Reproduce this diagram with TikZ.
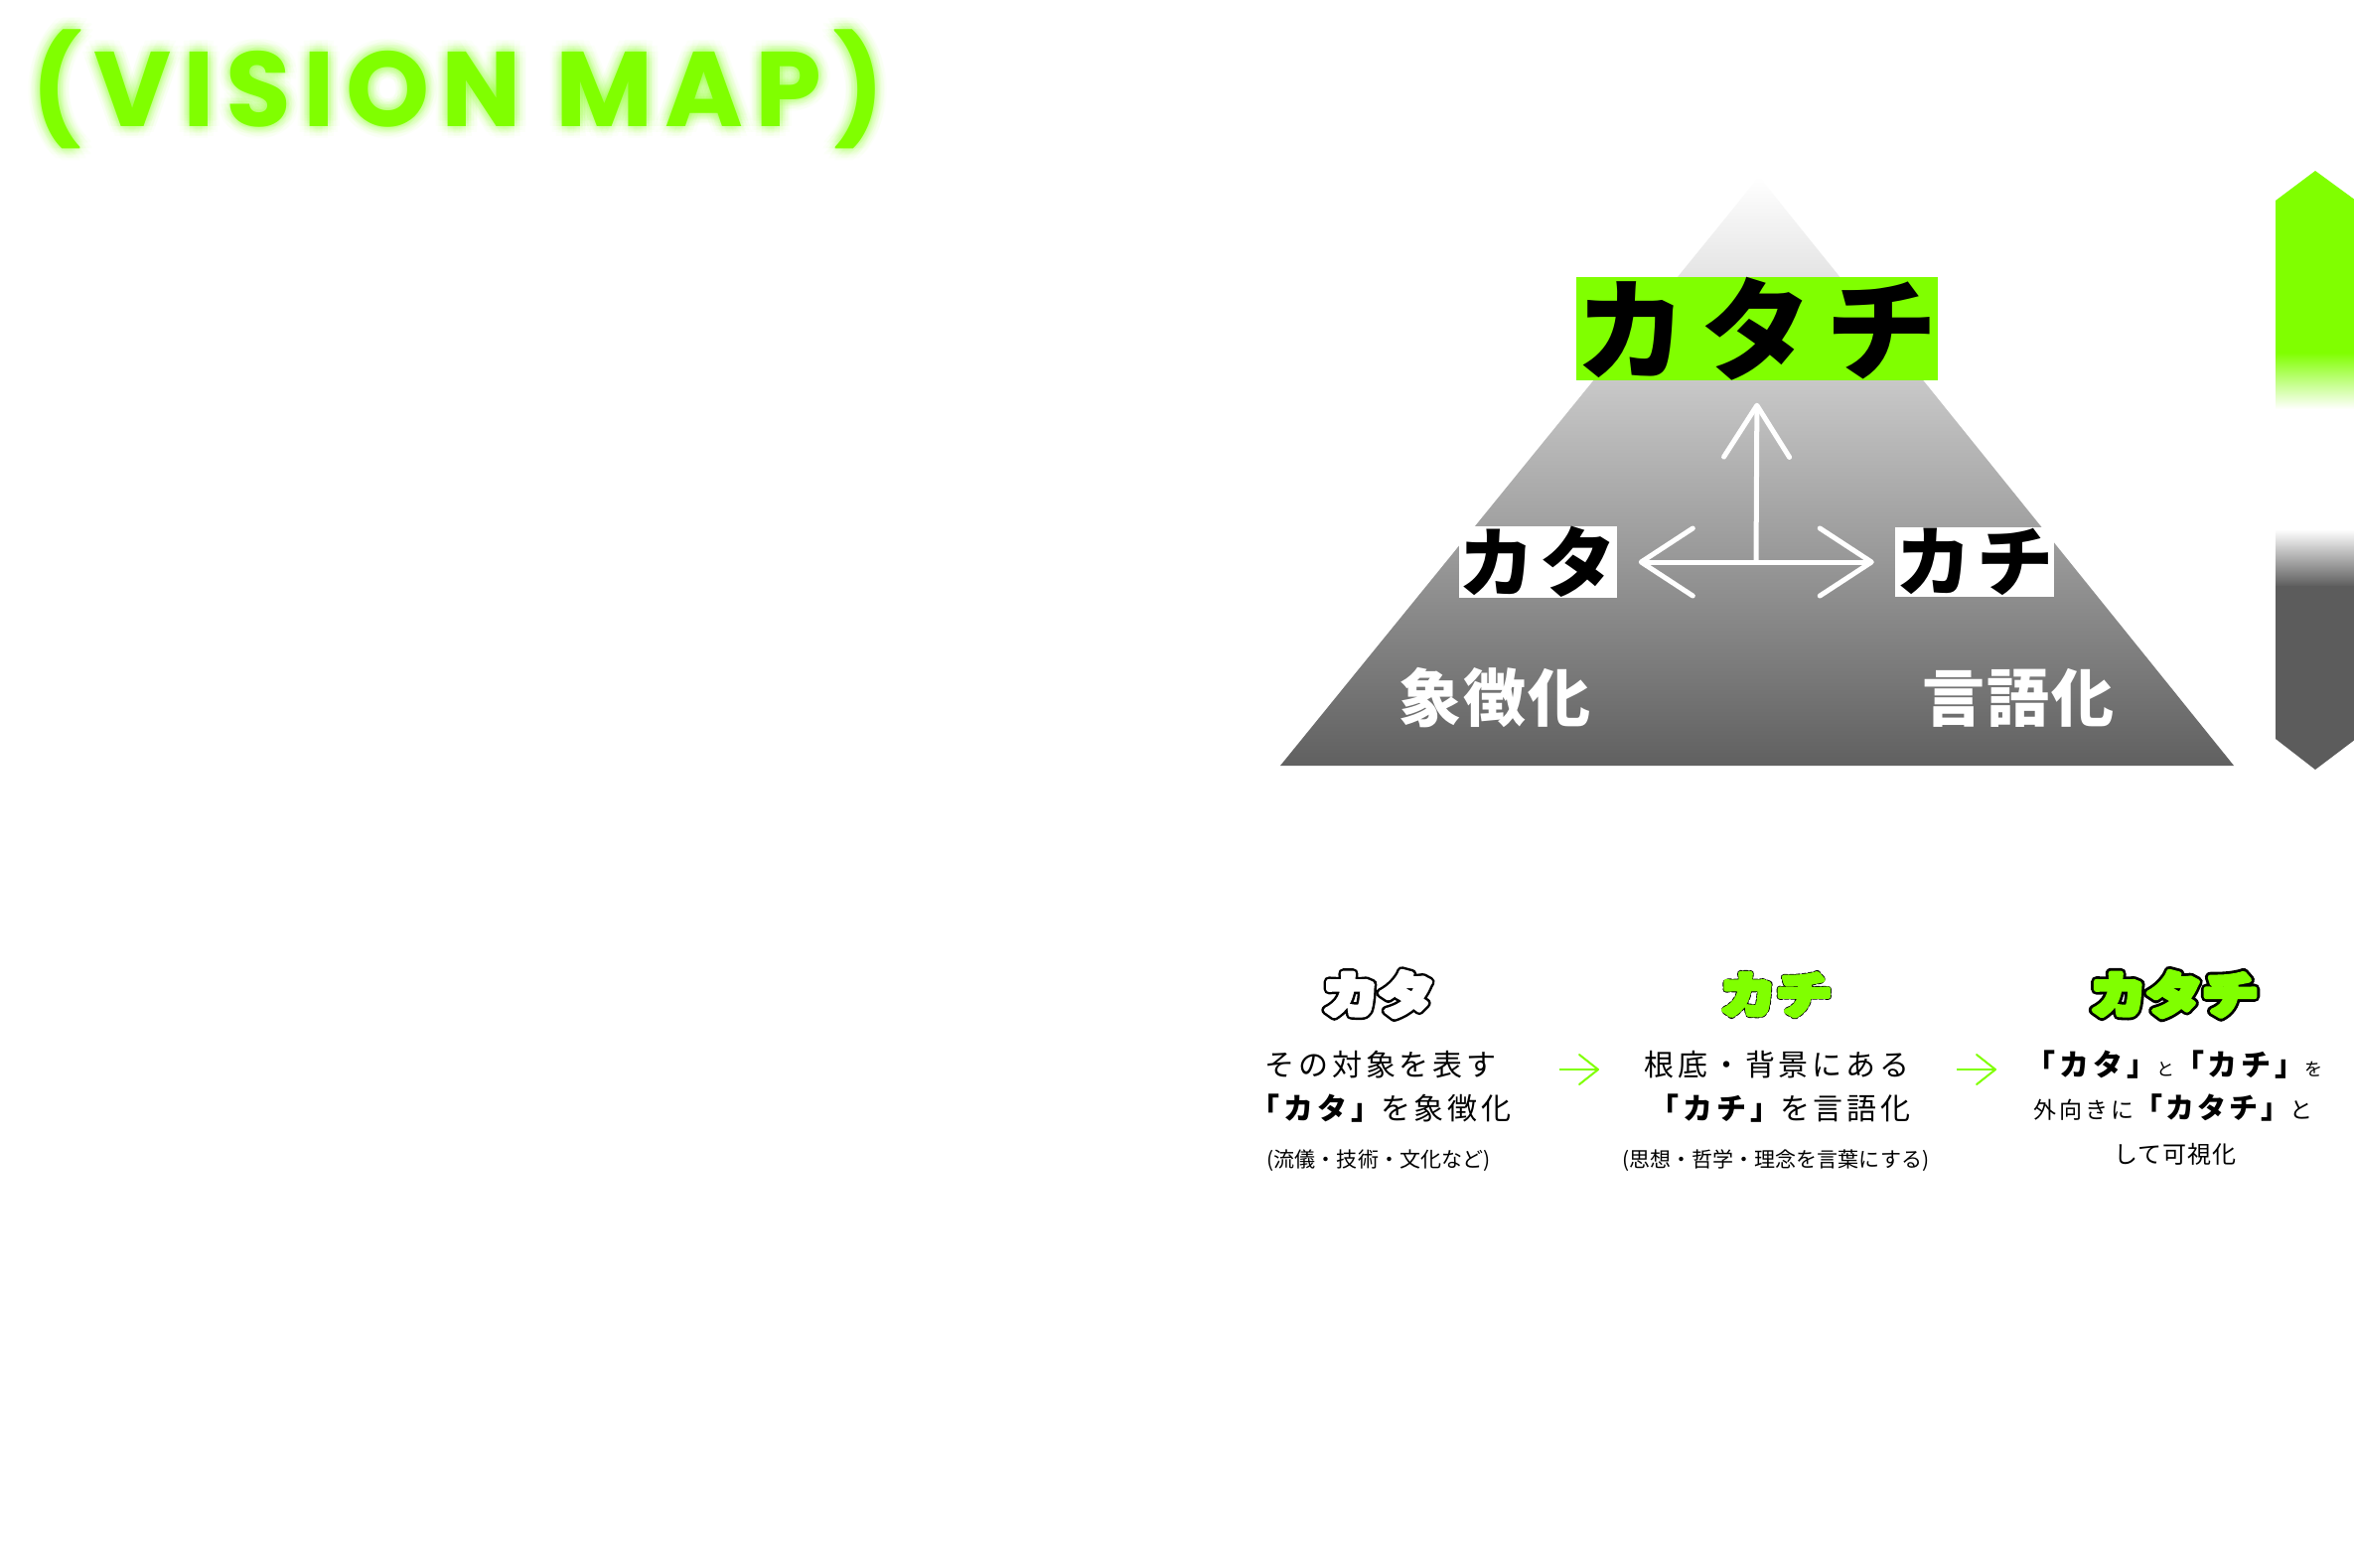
\documentclass[tikz,border=0pt]{standalone}
\usepackage{fontspec}
\usetikzlibrary{arrows.meta}
\setmainfont{Noto Sans CJK JP}
\newfontfamily\titlefam{Poppins}
\newfontfamily\hdfam{Noto Sans CJK JP}[FakeStretch=1.15]
\definecolor{kgreen}{HTML}{80FF00}
\definecolor{bargray}{HTML}{5C5C5C}
\definecolor{trigray}{HTML}{606060}
\newcommand\fpx[1]{\fontsize{\fpeval{#1*0.28453}pt}{\fpeval{#1*0.35}pt}\selectfont}
\newcommand\ls[1]{\addfontfeature{LetterSpace=#1}}
% #1 render mode, #2 width (bp), #3 stroke colour (RG), #4 dash
\newcommand\rmode[4]{\special{pdf:literal direct #1 Tr #2 w #3 RG 1 j 1 J #4}}
\newcommand\rreset{\special{pdf:literal direct 0 Tr [] 0 d 0.4 w}}
\tikzset{
  warrow/.style={draw=white, line width=0.05cm, line cap=round, line join=round},
  wboth/.style={{Straight Barb[length=0.52cm,width=0.68cm,round]}-{Straight Barb[length=0.52cm,width=0.68cm,round]}},
  wend/.style={-{Straight Barb[length=0.52cm,width=0.66cm,round]}},
  garrow/.style={draw=kgreen, line width=0.02cm, -{Straight Barb[length=0.19cm,width=0.30cm,round]}},
  body/.style={anchor=base, inner sep=0, font=\fpx{30}\ls{13}},
  note/.style={anchor=base, inner sep=0, font=\fpx{21}},
  hd/.style={anchor=base, inner sep=0, font=\hdfam\bfseries\fpx{49}},
  lab/.style={text=white, inner sep=0, font=\bfseries\fpx{63}\ls{3}},
  titletxt/.style={anchor=base west, inner sep=0, text=kgreen, font=\titlefam\bfseries\fpx{107}\ls{11}},
  glowtxt/.style={titletxt, text opacity=0.025},
}
\begin{document}
\begin{tikzpicture}[x=0.01cm,y=-0.01cm]
\useasboundingbox[fill=white] (0,0) rectangle (2370,1578);

% title with glow
\foreach \r in {3,6,9,12}{
  \foreach \a in {0,30,...,330}{
    \node[glowtxt] (glow\r-\a) at ([shift={(\a:\r)}]31,127) {(VISION MAP)};
  }
}
\node[titletxt] (title) at (31,127) {(VISION MAP)};

% pyramid
\coordinate (apex) at (1771,178);
\coordinate (bl) at (1289,771);
\coordinate (br) at (2249,771);
\shade[top color=white, bottom color=trigray] (apex) -- (br) -- (bl) -- cycle;

\node[fill=kgreen, inner sep=0, minimum width=3.6cm, minimum height=1.0cm,
      font=\bfseries\fpx{112}] (kg) at (1769,331) {カ\hspace{0.14cm}タ\hspace{0.14cm}チ};
\node[fill=white, inner sep=0, minimum width=1.59cm, minimum height=0.70cm,
      font=\bfseries\fpx{77}] (kata) at (1548.5,566) {\makebox[1.59cm]{カ\hspace{0.05cm}タ}};
\node[fill=white, inner sep=0, minimum width=1.59cm, minimum height=0.70cm,
      font=\bfseries\fpx{77}] (kachi) at (1988,566) {\makebox[1.59cm]{カ\hspace{0.05cm}チ}};

\coordinate (jn) at (1768,566);
\draw[warrow, wboth, shorten <=0.21cm, shorten >=0.21cm] (kata.east) -- (kachi.west);
\draw[warrow, wend, shorten >=0.22cm] (jn) -- (kg.south);

\node[lab] (shocho) at (1505,703) {象徴化};
\node[lab] (gengo) at (2032,703) {言語化};

% side bar
\fill[kgreen] (2331,172) -- (2372,202) -- (2372,356) -- (2291,356) -- (2291,202) -- cycle;
\shade[top color=kgreen, bottom color=white] (2291,355) rectangle (2372,412);
\shade[top color=white, bottom color=bargray] (2291,533) rectangle (2372,591);
\fill[bargray] (2291,590) -- (2372,590) -- (2372,744) -- (2331,775) -- (2291,744) -- cycle;

% lower steps: headers (outlined display lettering)
\node[hd, text=white] (h1) at (1388,1020)
  {\rlap{\rmode{1}{2.9}{0 0 0}{}カタ\rreset}\rmode{2}{1.5}{1 1 1}{}カタ\rreset};
\node[hd, text=kgreen] (h2) at (1788,1020)
  {\rlap{\rmode{1}{1.9}{0 0 0}{[0.9 0.9] 0 d}カチ\rreset}\rmode{2}{1.4}{0.502 1 0}{}カチ\rreset};
\node[hd, text=kgreen] (h3) at (2189,1020)
  {\rlap{\rmode{1}{3.1}{0 0 0}{}カタチ\rreset}\rmode{2}{1.5}{0.502 1 0}{}カタチ\rreset};

% column 1
\node[body] (c1a) at (1390,1083) {その対象を表す};
\node[body] (c1b) at (1390,1127) {{\bfseries 「カタ」}を象徴化};
\node[note] (c1c) at (1388,1175) {(流儀・技術・文化など)};

% column 2
\node[body] (c2a) at (1789,1083) {根底・背景にある};
\node[body] (c2b) at (1792,1127) {{\bfseries 「カチ」}を言語化};
\node[note] (c2c) at (1788,1175) {(思想・哲学・理念を言葉にする)};

% column 3
\node[anchor=base, inner sep=0] (c3a) at (2189,1083)
  {{\bfseries\fpx{30}\ls{13}「カタ」}{\fpx{18}\ls{50}と}{\bfseries\fpx{30}\ls{13}「カチ」}{\fpx{18}\ls{20}を}};
\node[anchor=base, inner sep=0] (c3b) at (2188,1126)
  {{\fpx{23}\ls{13}外向きに}{\bfseries\fpx{29}\ls{10}「カタチ」}{\fpx{23}と}};
\node[anchor=base, inner sep=0, font=\fpx{24}\ls{4}] (c3c) at (2190,1171) {して可視化};

% green arrows
\coordinate (g1a) at (1570,1077);
\coordinate (g1b) at (1610,1077);
\coordinate (g2a) at (1970,1077);
\coordinate (g2b) at (2010,1077);
\draw[garrow] (g1a) -- (g1b);
\draw[garrow] (g2a) -- (g2b);
\end{tikzpicture}
\end{document}
